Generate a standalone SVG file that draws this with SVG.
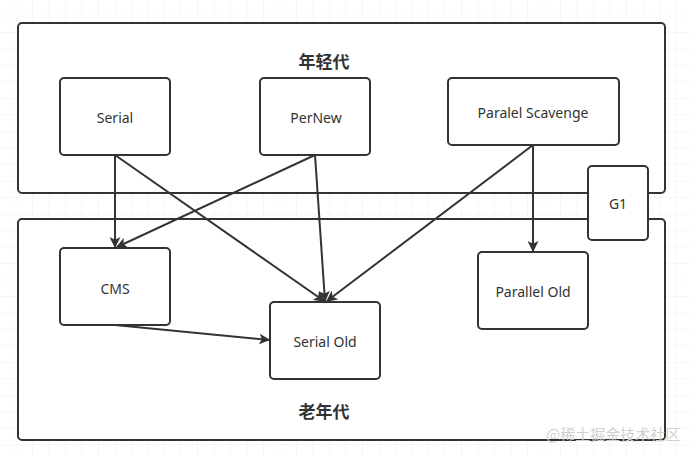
<svg xmlns="http://www.w3.org/2000/svg" width="690" height="456" viewBox="0 0 690 456">
<style>
.box{fill:#fff;stroke:#333;stroke-width:2}
.lbl{font-family:"Noto Sans","Liberation Sans",sans-serif;font-size:14px;fill:#333;text-anchor:middle;dominant-baseline:central}
.ttl{font-family:"Noto Sans CJK SC",sans-serif;font-size:17px;font-weight:bold;fill:#333;text-anchor:middle;dominant-baseline:central}
.edge{fill:none;stroke:#333;stroke-width:2}
.wm{font-family:"Noto Sans CJK SC",sans-serif;font-size:15px;fill:#d0d0d0}
</style>
<defs>
<pattern id="grid" width="16.5" height="16.5" patternUnits="userSpaceOnUse">
<path d="M16.5 0V16.5H0" fill="none" stroke="#eeeeee" stroke-width="1"/>
</pattern>
<marker id="arr" viewBox="0 0 10 10" refX="9" refY="5" markerWidth="5.5" markerHeight="5.5" orient="auto" markerUnits="strokeWidth">
<path d="M0 0L10 5L0 10L2.5 5Z" fill="#333"/>
</marker>
</defs>
<rect width="690" height="456" fill="#fff"/>
<rect width="690" height="456" fill="url(#grid)"/>
<g id="young">
<rect class="box" x="18" y="23" width="647" height="170" rx="4"/>
<text class="ttl" x="324" y="60">年轻代</text>
</g>
<g id="old">
<rect class="box" x="18" y="219" width="647" height="221" rx="4"/>
<text class="ttl" x="324" y="410">老年代</text>
</g>
<g id="serial">
<rect class="box" x="60" y="78" width="110" height="77" rx="4"/>
<text class="lbl" x="115" y="117">Serial</text>
</g>
<g id="pernew">
<rect class="box" x="260" y="78" width="110" height="77" rx="4"/>
<text class="lbl" x="316" y="117">PerNew</text>
</g>
<g id="scavenge">
<rect class="box" x="448" y="78" width="171" height="67" rx="4"/>
<text class="lbl" x="533" y="112">Paralel Scavenge</text>
</g>
<g id="g1">
<rect class="box" x="588" y="166" width="60" height="74" rx="4"/>
<text class="lbl" x="618" y="203">G1</text>
</g>
<g id="cms">
<rect class="box" x="60" y="248" width="110" height="77" rx="4"/>
<text class="lbl" x="115" y="288">CMS</text>
</g>
<g id="serialold">
<rect class="box" x="270" y="302" width="110" height="77" rx="4"/>
<text class="lbl" x="325" y="341">Serial Old</text>
</g>
<g id="parallelold">
<rect class="box" x="478" y="252" width="110" height="77" rx="4"/>
<text class="lbl" x="533" y="291">Parallel Old</text>
</g>
<g id="connectors">
<path class="edge" d="M115 155V247" marker-end="url(#arr)"/>
<path class="edge" d="M115 155L324 301" marker-end="url(#arr)"/>
<path class="edge" d="M315 155L117 247" marker-end="url(#arr)"/>
<path class="edge" d="M315 155L325 301" marker-end="url(#arr)"/>
<path class="edge" d="M533 145L327 301" marker-end="url(#arr)"/>
<path class="edge" d="M533 145V251" marker-end="url(#arr)"/>
<path class="edge" d="M115 325L269 340" marker-end="url(#arr)"/>
</g>
<text class="wm" x="546" y="440">@稀土掘金技术社区</text>
</svg>
